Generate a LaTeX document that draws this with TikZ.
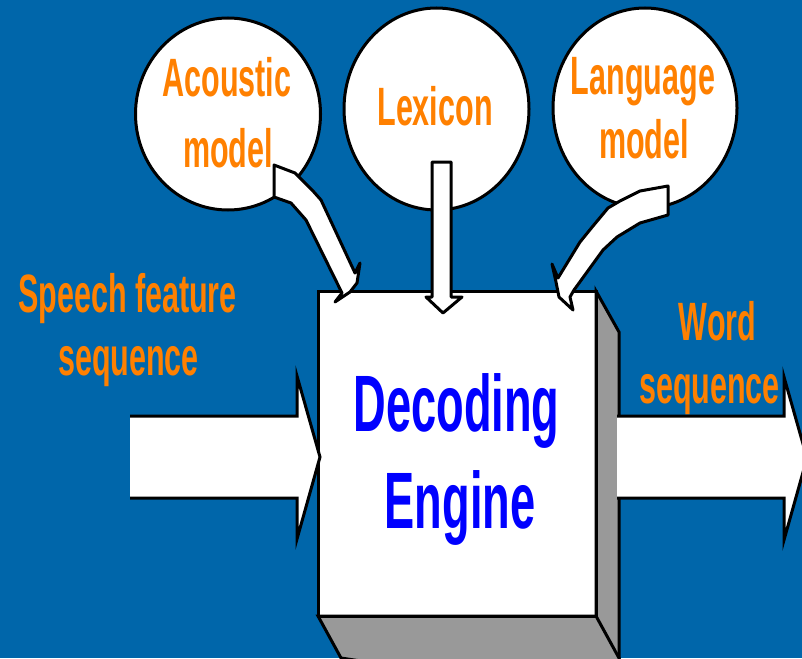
\documentclass[tikz,border=0pt]{standalone}
\usepackage{fontspec}
\newfontfamily\arr{Liberation Sans}[FakeStretch=0.565]
\usetikzlibrary{shapes.geometric}
\definecolor{bgblue}{RGB}{0,102,170}
\definecolor{lblorange}{RGB}{255,128,0}
\definecolor{engblue}{RGB}{0,0,255}
\definecolor{sidegray}{RGB}{153,153,153}
\tikzset{
  bubble/.style={ellipse, draw=black, fill=white, line width=3pt, inner sep=0pt},
  blockarrow/.style={fill=white, draw=black, line width=3pt, line join=round},
  boxface/.style={draw=black, line width=3pt, line join=miter},
  lbl/.style={anchor=base, inner sep=0pt, text=lblorange, font=\arr\bfseries\fontsize{54}{54}\selectfont},
  big/.style={anchor=base, inner sep=0pt, text=engblue, font=\arr\bfseries\fontsize{80}{80}\selectfont},
}
\begin{document}
\begin{tikzpicture}[x=1pt,y=-1pt]
\useasboundingbox (0,0) rectangle (802,658);
\clip (0,0) rectangle (802,658);
\fill[bgblue] (0,0) rectangle (802,658);
% knowledge sources
\node[bubble, minimum width=185pt, minimum height=192pt] (acoustic) at (228,114) {};
\node[bubble, minimum width=185pt, minimum height=202pt] (lexicon) at (436.5,109) {};
\node[bubble, minimum width=184pt, minimum height=200pt] (language) at (645,108) {};
\node[lbl] (ac1) at (227,97) {Acoustic};
\node[lbl] (ac2) at (228,167) {model};
\node[lbl] (lx) at (435,125) {Lexicon};
\node[lbl] (lm1) at (643,95) {Language};
\node[lbl] (lm2) at (644,158) {model};
% decoding engine box
\fill[white] (318,291) rectangle (596,616);
\filldraw[sidegray, boxface] (596,291) -- (619,332) -- (619,700) -- (596,616) -- cycle;
\filldraw[sidegray, boxface] (318,616) -- (596,616) -- (619,658) -- (619,700) -- (341,658) -- cycle;
\draw[boxface] (318,291) rectangle (596,616);
\node[big] (dec) at (456.5,431) {Decoding};
\node[big] (eng) at (460,528) {Engine};
% input / output arrows
\fill[white] (130,416) -- (297,416) -- (297,376) -- (320,457) -- (297,539) -- (297,498) -- (130,498) -- cycle;
\draw[black, line width=3pt, line join=miter] (130,416) -- (297,416) -- (297,376) -- (320,457) -- (297,539) -- (297,498) -- (130,498);
\fill[white] (617,416) -- (784,416) -- (784,377) -- (807,458) -- (784,540) -- (784,498) -- (617,498) -- cycle;
\draw[black, line width=3pt, line join=miter] (617,416) -- (784,416) -- (784,377) -- (807,458) -- (784,540) -- (784,498) -- (617,498);
% knowledge arrows
\draw[blockarrow] (274,165) -- (295,173) -- (313,191) -- (321,200) -- (355,273) -- (360,263) -- (357,283) -- (350,292) -- (335,302) -- (342,293) -- (306,220) -- (291,203) -- (274,197) -- cycle;
\draw[blockarrow] (432,162) -- (451,162) -- (451,297) -- (462,297) -- (443,313) -- (426,297) -- (432,297) -- cycle;
\draw[blockarrow] (668,186) -- (640,191) -- (620,201) -- (608,208) -- (593,226) -- (580,242) -- (558,278) -- (552,264) -- (556,282) -- (559,297) -- (573,310) -- (570,297) -- (574,290) -- (603,250) -- (617,237) -- (640,223) -- (668,215) -- cycle;
% side labels
\node[lbl] (sp1) at (127.5,312) {Speech feature};
\node[lbl] (sp2) at (128.5,375) {sequence};
\node[lbl] (wd1) at (717.5,340) {Word};
\node[lbl] (wd2) at (709.5,403) {sequence};
\end{tikzpicture}
\end{document}
